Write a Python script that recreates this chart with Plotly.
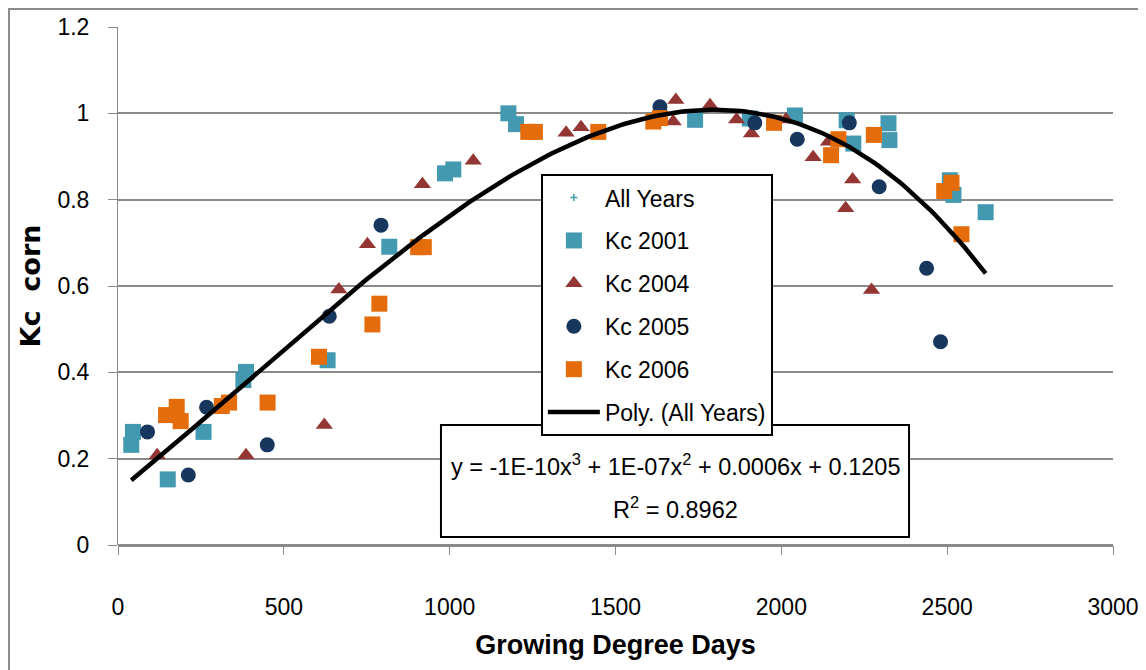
import numpy as np
import plotly.graph_objects as go

# ---- data ----
kc2001_x = [45, 40, 150, 258, 378, 386, 632, 818, 986, 1011, 1177, 1200, 1740, 1905, 2041, 2197, 2217, 2323, 2326, 2508, 2519, 2616]
kc2001_y = [0.262, 0.232, 0.152, 0.262, 0.382, 0.401, 0.428, 0.691, 0.861, 0.870, 1.000, 0.975, 0.985, 0.988, 0.995, 0.984, 0.930, 0.977, 0.938, 0.845, 0.811, 0.771]

kc2004_x = [118, 386, 622, 666, 752, 918, 1071, 1351, 1396, 1674, 1682, 1785, 1865, 1910, 2014, 2096, 2142, 2194, 2215, 2272]
kc2004_y = [0.208, 0.208, 0.278, 0.592, 0.697, 0.836, 0.890, 0.955, 0.968, 0.981, 1.031, 1.019, 0.986, 0.953, 0.986, 0.898, 0.934, 0.780, 0.847, 0.591]

kc2005_x = [89, 212, 267, 450, 637, 793, 1634, 1920, 2048, 2205, 2295, 2438, 2480]
kc2005_y = [0.262, 0.162, 0.319, 0.232, 0.530, 0.741, 1.015, 0.978, 0.940, 0.978, 0.830, 0.641, 0.471]

kc2006_x = [145, 177, 189, 313, 335, 451, 606, 767, 788, 905, 922, 1237, 1257, 1448, 1614, 1634, 1978, 2150, 2172, 2279, 2491, 2513, 2543]
kc2006_y = [0.301, 0.320, 0.287, 0.322, 0.330, 0.330, 0.436, 0.511, 0.559, 0.690, 0.690, 0.957, 0.957, 0.957, 0.981, 0.989, 0.978, 0.903, 0.940, 0.950, 0.820, 0.839, 0.720]

x_ticks = [0, 500, 1000, 1500, 2000, 2500, 3000]
y_ticks = [0, 0.2, 0.4, 0.6, 0.8, 1.0, 1.2]
y_tick_labels = ["0", "0.2", "0.4", "0.6", "0.8", "1", "1.2"]

equation_line1 = "y = -1E-10x<sup>3</sup> + 1E-07x<sup>2</sup> + 0.0006x + 0.1205"
equation_line2 = "R<sup>2</sup> = 0.8962"

# All years combined + cubic trendline (as Excel computes it)
all_x = np.array(kc2001_x + kc2004_x + kc2005_x + kc2006_x, dtype=float)
all_y = np.array(kc2001_y + kc2004_y + kc2005_y + kc2006_y, dtype=float)
coef = np.polyfit(all_x, all_y, 3)
fit_x = np.linspace(all_x.min(), all_x.max(), 200)
fit_y = np.polyval(coef, fit_x)

TEAL = "#4399B0"
RED = "#943634"
NAVY = "#17375E"
ORANGE = "#E46C0A"
FONT = "Liberation Sans, Arial, sans-serif"

fig = go.Figure()
fig.add_trace(go.Scatter(x=all_x, y=all_y, mode="markers", name="All Years", legendgroup="a",
                         marker=dict(symbol="cross-thin", size=5, color=TEAL, line=dict(color=TEAL, width=1.5))))
fig.add_trace(go.Scatter(x=kc2001_x, y=kc2001_y, mode="markers", name="Kc 2001", legendgroup="b",
                         marker=dict(symbol="square", size=16, color=TEAL, line=dict(width=0))))
fig.add_trace(go.Scatter(x=kc2004_x, y=kc2004_y, mode="markers", name="Kc 2004", legendgroup="c",
                         marker=dict(symbol="triangle-up", size=15, color=RED, line=dict(width=0))))
fig.add_trace(go.Scatter(x=kc2005_x, y=kc2005_y, mode="markers", name="Kc 2005", legendgroup="d",
                         marker=dict(symbol="circle", size=15, color=NAVY, line=dict(width=0))))
fig.add_trace(go.Scatter(x=kc2006_x, y=kc2006_y, mode="markers", name="Kc 2006", legendgroup="e",
                         marker=dict(symbol="square", size=16, color=ORANGE, line=dict(width=0))))
fig.add_trace(go.Scatter(x=fit_x, y=fit_y, mode="lines", name="Poly. (All Years)", legendgroup="f",
                         line=dict(color="black", width=4.5)))

fig.update_layout(
    width=1146, height=670,
    margin=dict(l=110, r=41, t=19, b=133),
    paper_bgcolor="white", plot_bgcolor="white",
    font=dict(family=FONT, size=23, color="black"),
    showlegend=True,
    legend=dict(x=0.425, y=0.716, xanchor="left", yanchor="top",
                bgcolor="white", bordercolor="black", borderwidth=2,
                font=dict(family=FONT, size=23, color="black"),
                tracegroupgap=10, itemwidth=52),
    xaxis=dict(range=[0, 3000], tickvals=x_ticks, showgrid=False, zeroline=False, automargin=False,
               showline=False, ticks="outside", ticklen=9, tickcolor="#8a8a8a", tickwidth=1,
               ticklabelstandoff=32,
               tickfont=dict(family=FONT, size=23),
               title=dict(text="<b>Growing Degree Days</b>", font=dict(family=FONT, size=27), standoff=16)),
    yaxis=dict(range=[0, 1.2], tickvals=y_ticks, ticktext=y_tick_labels, showgrid=True, automargin=False,
               gridcolor="#8a8a8a", gridwidth=2, zeroline=True, zerolinecolor="#8a8a8a", zerolinewidth=3,
               showline=True, linecolor="#8a8a8a", linewidth=1,
               ticks="outside", ticklen=9, tickcolor="#8a8a8a",
               ticklabelstandoff=14,
               tickfont=dict(family=FONT, size=23),
               title=dict(text="<b>Kc  corn</b>", font=dict(family="DejaVu Sans", size=27), standoff=8)),
    annotations=[
        dict(text=equation_line1, xref="paper", yref="paper", x=0.56, y=0.1544,
             xanchor="center", yanchor="middle", showarrow=False,
             font=dict(family=FONT, size=23.5, color="black")),
        dict(text=equation_line2, xref="paper", yref="paper", x=0.56, y=0.0714,
             xanchor="center", yanchor="middle", showarrow=False,
             font=dict(family=FONT, size=23.5, color="black")),
    ],
    shapes=[
        dict(type="rect", xref="paper", yref="paper", x0=-0.1095, x1=1.1, y0=-0.3, y1=1.0347,
             line=dict(color="#8a8a8a", width=2), layer="below"),
        dict(type="rect", xref="paper", yref="paper", x0=0.3246, x1=0.795, y0=0.0154, y1=0.2317,
             line=dict(color="black", width=2), fillcolor="white", layer="above"),
    ],
)

fig.write_html("out.html")
